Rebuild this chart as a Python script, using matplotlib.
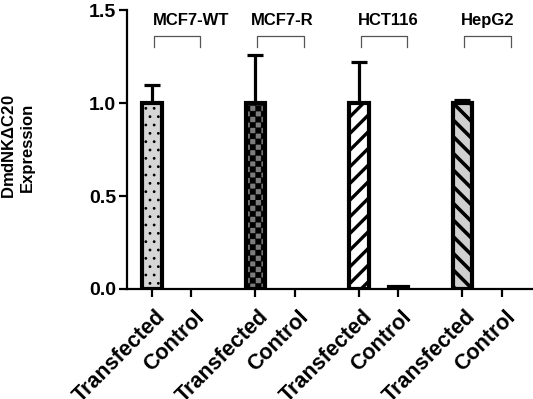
import warnings
import numpy as np
import matplotlib
matplotlib.use('Agg')
import matplotlib.pyplot as plt
import matplotlib.hatch as mhatch
from matplotlib.path import Path
from matplotlib.transforms import ScaledTranslation

warnings.filterwarnings('ignore')

# data
groups = ['MCF7-WT', 'MCF7-R', 'HCT116', 'HepG2']
conditions = ['Transfected', 'Control']
transfected = [1.0, 1.0, 1.0, 1.0]
transfected_err = [0.097, 0.258, 0.22, 0.015]
control = [0.0, 0.0, 0.01, 0.0]


class CheckerHatch(mhatch.HatchPatternBase):
    """'c' in a hatch string -> filled checkerboard squares"""
    def __init__(self, hatch, density):
        self.n = int(hatch.count('c') * density)
        self.num_vertices = (self.n * self.n // 2) * 5

    def set_vertices_and_codes(self, vertices, codes):
        s = 1.0 / self.n
        k = 0
        for i in range(self.n):
            for j in range(self.n):
                if (i + j) % 2:
                    continue
                x0, y0 = i * s, j * s
                vertices[k:k + 5] = [(x0, y0), (x0 + s, y0), (x0 + s, y0 + s),
                                     (x0, y0 + s), (x0, y0)]
                codes[k] = Path.MOVETO
                codes[k + 1:k + 4] = Path.LINETO
                codes[k + 4] = Path.CLOSEPOLY
                k += 5


mhatch._hatch_types.append(CheckerHatch)

plt.rcParams['font.family'] = ['Liberation Sans', 'DejaVu Sans']
plt.rcParams['font.weight'] = 'bold'
plt.rcParams['mathtext.fontset'] = 'custom'
plt.rcParams['mathtext.rm'] = 'Liberation Sans'
plt.rcParams['mathtext.default'] = 'rm'

# bar styles: (facecolor, hatch, hatch linewidth)
styles = [('#d6d6d6', '..', 0.8),
          ('#7c7c7c', 'ccc', 0.3),
          ('white', '//', 2.4),
          ('#d0d0d0', '\\\\', 2.6)]

pos_t = np.arange(len(groups)) * 2.62
pos_c = pos_t + 1.0

fig = plt.figure(figsize=(5.33, 3.99), dpi=100)
ax = fig.add_axes([0.2383, 0.2757, 0.7617, 0.6992])

for i, g in enumerate(groups):
    fc, hatch, hlw = styles[i]
    vals = [transfected[i], control[i]]
    with plt.rc_context({'hatch.linewidth': hlw}):
        bars = ax.bar([pos_t[i], pos_c[i]], vals, width=0.49, color=fc,
                      edgecolor='black', hatch=hatch,
                      linewidth=[3 if v > 0 else 0 for v in vals], zorder=2)
    for b in bars:
        if hasattr(b, 'set_hatch_linewidth'):
            b.set_hatch_linewidth(hlw)

ax.errorbar(pos_t, transfected, yerr=[np.zeros(len(groups)), transfected_err],
            fmt='none', ecolor='black', elinewidth=2.3, capsize=5.5,
            capthick=2.3, zorder=1.5)

# group brackets and names
label_dx = [0.99, 0.67, 0.75, 0.63]
for i, g in enumerate(groups):
    x0, x1 = pos_t[i] + 0.05, pos_c[i] + 0.23
    ax.plot([x0, x0, x1, x1], [1.30, 1.36, 1.36, 1.30], color='#555555',
            lw=0.9, clip_on=False)
    ax.text(pos_t[i] + label_dx[i], 1.445, g, ha='center', va='center',
            fontsize=12, fontweight='bold')

ax.set_xlim(-0.63, 9.65)
ax.set_ylim(0, 1.5)
ax.set_yticks([0, 0.5, 1.0, 1.5])
ax.set_yticklabels(['0.0', '0.5', '1.0', '1.5'], fontsize=14, fontweight='bold')

for s in ['top', 'right']:
    ax.spines[s].set_visible(False)
for s in ['left', 'bottom']:
    ax.spines[s].set_linewidth(1.6)
ax.tick_params(axis='both', length=6, width=1.6)
ax.tick_params(axis='x', pad=4)
ax.tick_params(axis='y', pad=2)

xt = np.ravel(np.column_stack([pos_t, pos_c]))
ax.set_xticks(xt)
ax.set_xticklabels(conditions * len(groups), rotation=45, ha='right',
                   va='top', rotation_mode='anchor', fontsize=15.5,
                   fontweight='bold')
# nudge the rotated labels (after tick_params, which resets transforms)
shift = ScaledTranslation(0.03, -0.035, fig.dpi_scale_trans)
for lbl in ax.get_xticklabels():
    lbl.set_transform(lbl.get_transform() + shift)

fig.text(18 / 533, 1 - 147 / 399, 'DmdNK$\\Delta$C20\nExpression', rotation=90,
         ha='center', va='center', multialignment='center', fontsize=12,
         fontweight='bold')

fig.savefig('out.png', dpi=100)
